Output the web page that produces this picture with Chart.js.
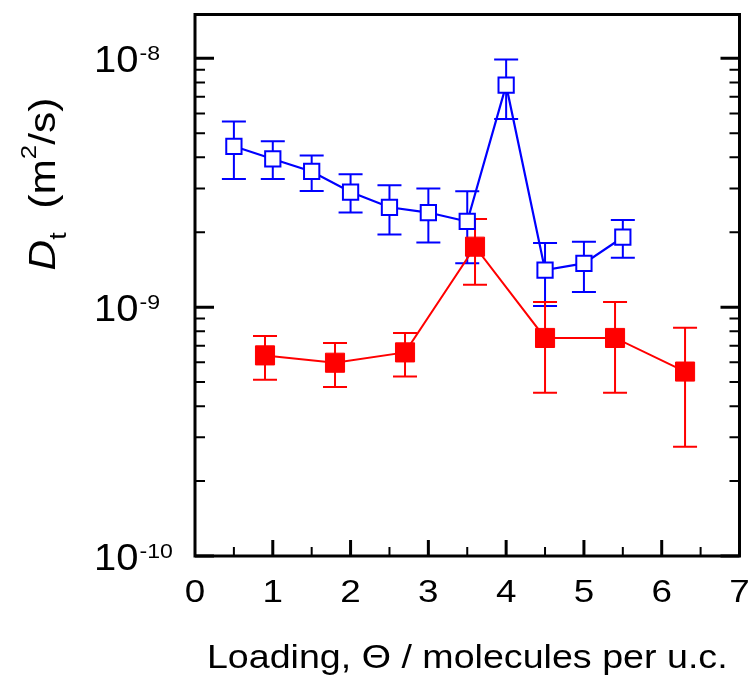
<!DOCTYPE html>
<html>
<head>
<meta charset="utf-8">
<script src="https://cdn.jsdelivr.net/npm/chart.js@4.4.1/dist/chart.umd.min.js"></script>
<style>
  html, body { margin: 0; padding: 0; background: #fff; }
  #wrap { width: 754px; height: 680px; }
</style>
</head>
<body>
<div id="wrap"><canvas id="chart" width="754" height="680"></canvas></div>
<script>
// open blue squares
const blueLoading = [0.5, 1, 1.5, 2, 2.5, 3, 3.5, 4, 4.5, 5, 5.5];
const blueD = [4.43e-9, 3.94e-9, 3.51e-9, 2.90e-9, 2.52e-9, 2.40e-9, 2.21e-9, 7.80e-9, 1.41e-9, 1.50e-9, 1.91e-9];
const blueHigh = [5.57e-9, 4.64e-9, 4.07e-9, 3.42e-9, 3.09e-9, 3.00e-9, 2.92e-9, 9.88e-9, 1.81e-9, 1.83e-9, 2.24e-9];
const blueLow = [3.27e-9, 3.27e-9, 2.93e-9, 2.40e-9, 1.96e-9, 1.82e-9, 1.50e-9, 5.71e-9, 1.01e-9, 1.15e-9, 1.58e-9];

// filled red squares
const redLoading = [0.9, 1.8, 2.7, 3.6, 4.5, 5.4, 6.3];
const redD = [6.40e-10, 5.98e-10, 6.58e-10, 1.75e-9, 7.52e-10, 7.52e-10, 5.51e-10];
const redHigh = [7.66e-10, 7.17e-10, 7.87e-10, 2.26e-9, 1.05e-9, 1.05e-9, 8.27e-10];
const redLow = [5.11e-10, 4.78e-10, 5.26e-10, 1.23e-9, 4.53e-10, 4.53e-10, 2.75e-10];

const xTickLabels = ['0', '1', '2', '3', '4', '5', '6', '7'];
const yDecades = [-10, -9, -8];

const FONT = '"Liberation Sans", Arial, sans-serif';
const toPoints = (xs, ys) => xs.map((x, i) => ({ x, y: ys[i] }));

// text in the reference is a bit wider than Liberation Sans, so stretch it along x
function wideText(ctx, text, x, y, font, sx, align) {
  ctx.save();
  ctx.font = font;
  const w = ctx.measureText(text).width * sx;
  const x0 = align === 'center' ? x - w / 2 : align === 'right' ? x - w : x;
  ctx.translate(x0, y);
  ctx.scale(sx, 1);
  ctx.textAlign = 'left';
  ctx.fillText(text, 0, 0);
  ctx.restore();
  return w;
}

const errorBars = {
  id: 'errorBars',
  beforeDatasetsDraw(chart) {
    const { ctx, scales: { x, y } } = chart;
    const groups = [
      { xs: blueLoading, hi: blueHigh, lo: blueLow, color: '#0000ff' },
      { xs: redLoading, hi: redHigh, lo: redLow, color: '#ff0000' }
    ];
    ctx.save();
    ctx.lineWidth = 2;
    groups.forEach(g => {
      ctx.strokeStyle = g.color;
      g.xs.forEach((v, i) => {
        const px = x.getPixelForValue(v);
        const top = y.getPixelForValue(g.hi[i]);
        const bot = y.getPixelForValue(g.lo[i]);
        ctx.beginPath();
        ctx.moveTo(px, top); ctx.lineTo(px, bot);
        ctx.moveTo(px - 12, top); ctx.lineTo(px + 12, top);
        ctx.moveTo(px - 12, bot); ctx.lineTo(px + 12, bot);
        ctx.stroke();
      });
    });
    ctx.restore();
  }
};

const frameAndAxes = {
  id: 'frameAndAxes',
  afterDraw(chart) {
    const { ctx, chartArea: a, scales: { x, y } } = chart;
    ctx.save();
    ctx.strokeStyle = '#000';
    ctx.fillStyle = '#000';
    ctx.textBaseline = 'alphabetic';

    // y ticks, both sides, inward
    yDecades.forEach(d => {
      for (let m = 1; m <= 9; m++) {
        const v = m * Math.pow(10, d);
        if (v > y.max || v < y.min) continue;
        const py = y.getPixelForValue(v);
        const len = m === 1 ? 19 : 10;
        ctx.lineWidth = m === 1 ? 3 : 2;
        ctx.beginPath();
        ctx.moveTo(a.left, py); ctx.lineTo(a.left + len, py);
        ctx.moveTo(a.right, py); ctx.lineTo(a.right - len, py);
        ctx.stroke();
      }
    });

    // x ticks, bottom, inward
    for (let v = 0.5; v < 7; v += 0.5) {
      const px = x.getPixelForValue(v);
      const major = Number.isInteger(v);
      ctx.lineWidth = major ? 3 : 2;
      ctx.beginPath();
      ctx.moveTo(px, a.bottom); ctx.lineTo(px, a.bottom - (major ? 16 : 9));
      ctx.stroke();
    }

    // frame
    ctx.lineWidth = 3;
    ctx.strokeRect(a.left, a.top, a.right - a.left, a.bottom - a.top);

    // x tick labels
    xTickLabels.forEach((t, i) => {
      wideText(ctx, t, x.getPixelForValue(i), a.bottom + 46, '32px ' + FONT, 1.15, 'center');
    });

    // y tick labels 10^n
    yDecades.forEach(d => {
      const py = y.getPixelForValue(Math.pow(10, d));
      const w = wideText(ctx, '10', 94, py + 14, '37px ' + FONT, 1.08, 'left');
      wideText(ctx, String(d), 94 + w + 1, py + 1.5, '21px ' + FONT, 1.1, 'left');
    });

    // x axis title
    wideText(ctx, 'Loading, \u0398 / molecules per u.c.', (a.left + a.right) / 2, 668, '33px ' + FONT, 1.14, 'center');

    // y axis title: D_t (m^2/s)
    const sx = 1.18;
    const parts = [
      { t: 'D', f: 'italic 36px ' + FONT, dy: 0 },
      { t: 't', f: '23px ' + FONT, dy: 11 },
      { t: '  (m', f: '36px ' + FONT, dy: 0 },
      { t: '2', f: '22px ' + FONT, dy: -19 },
      { t: '/s)', f: '36px ' + FONT, dy: 0 }
    ];
    let total = 0;
    parts.forEach(p => { ctx.font = p.f; p.w = ctx.measureText(p.t).width * sx; total += p.w; });
    ctx.translate(55, 184);
    ctx.rotate(-Math.PI / 2);
    let cx = -total / 2;
    parts.forEach(p => {
      wideText(ctx, p.t, cx, p.dy, p.f, sx, 'left');
      cx += p.w;
    });
    ctx.restore();
  }
};

new Chart(document.getElementById('chart'), {
  type: 'line',
  data: {
    datasets: [
      {
        label: 'red',
        data: toPoints(redLoading, redD),
        borderColor: '#ff0000',
        backgroundColor: '#ff0000',
        borderWidth: 2,
        pointStyle: 'rect',
        pointRadius: 13.5,
        pointBorderWidth: 1,
        pointBackgroundColor: '#ff0000',
        pointBorderColor: '#ff0000',
        tension: 0
      },
      {
        label: 'blue',
        data: toPoints(blueLoading, blueD),
        borderColor: '#0000ff',
        backgroundColor: '#ffffff',
        borderWidth: 2.2,
        pointStyle: 'rect',
        pointRadius: 10.8,
        pointBorderWidth: 2,
        pointBackgroundColor: '#ffffff',
        pointBorderColor: '#0000ff',
        tension: 0
      }
    ]
  },
  options: {
    responsive: false,
    animation: false,
    devicePixelRatio: 1,
    layout: { padding: { left: 195, top: 10, right: 13, bottom: 124 } },
    scales: {
      x: { type: 'linear', min: 0, max: 7, display: false },
      y: { type: 'logarithmic', min: 1e-10, max: 1.5e-8, display: false }
    },
    plugins: {
      legend: { display: false },
      tooltip: { enabled: false }
    }
  },
  plugins: [errorBars, frameAndAxes]
});
</script>
</body>
</html>
